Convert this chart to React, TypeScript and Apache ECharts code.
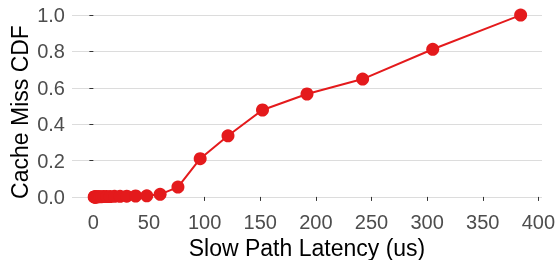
import React, { useEffect, useRef } from "react";
import * as echarts from "echarts";

const latency = [0.75, 0.95, 1.2, 1.5, 1.9, 2.4, 3, 3.8, 4.8, 6, 7.6, 9.5, 12, 15, 19, 24, 30, 38, 48, 60, 76, 96, 121, 152, 192, 242, 305, 384];
const cdf = [0, 0, 0, 0, 0, 0, 0, 0.001, 0.001, 0.001, 0.001, 0.002, 0.002, 0.002, 0.003, 0.003, 0.004, 0.005, 0.006, 0.014, 0.054, 0.21, 0.336, 0.478, 0.566, 0.648, 0.812, 1.0];
const xTicks = [0, 50, 100, 150, 200, 250, 300, 350, 400];
const yTicks = [0, 0.2, 0.4, 0.6, 0.8, 1.0];
const yTitle = "Cache Miss CDF";
const xTitle = "Slow Path Latency (us)";

const FONT = "Liberation Sans";

export default function App() {
  const ref = useRef<HTMLDivElement>(null);
  useEffect(() => {
    const chart = echarts.init(ref.current!, null, { renderer: "svg" });
    chart.setOption({
      animation: false,
      grid: { left: 72, right: 15, top: 6, bottom: 54, containLabel: false, outerBoundsMode: "none" },
      graphic: [
        {
          type: "text",
          x: 20,
          y: 112,
          rotation: Math.PI / 2,
          style: {
            text: yTitle,
            fill: "#000",
            fontSize: 23,
            fontFamily: FONT,
            textAlign: "center",
            textVerticalAlign: "middle",
          },
        },
      ],
      xAxis: {
        type: "value",
        min: -19.2,
        max: 403.2,
        name: xTitle,
        nameLocation: "middle",
        nameGap: 27,
        nameTextStyle: { color: "#000", fontSize: 23, fontFamily: FONT, verticalAlign: "top" },
        axisLine: { show: false },
        axisTick: { show: true, length: 4, customValues: xTicks, lineStyle: { color: "#333", width: 1 } },
        axisLabel: { customValues: xTicks, margin: 6, color: "#4d4d4d", fontSize: 20, fontFamily: FONT },
        splitLine: { show: false },
      },
      yAxis: {
        type: "value",
        min: -0.05,
        max: 1.05,
        axisLine: { show: false },
        axisTick: { show: true, length: 4, customValues: yTicks, lineStyle: { color: "#333", width: 1 } },
        axisLabel: {
          customValues: yTicks,
          margin: 7,
          color: "#4d4d4d",
          fontSize: 20,
          fontFamily: FONT,
          formatter: (v: number) => v.toFixed(1),
        },
        splitLine: { show: true, lineStyle: { color: "#dcdcdc", width: 1 } },
      },
      series: [
        {
          type: "line",
          data: latency.map((x, i) => [x, cdf[i]]),
          clip: false,
          symbol: "circle",
          symbolSize: 13,
          itemStyle: { color: "#e41a1c" },
          lineStyle: { color: "#e41a1c", width: 2 },
        },
      ],
    });
    return () => chart.dispose();
  }, []);
  return (
    <div
      ref={ref}
      style={{ position: "fixed", left: 0, top: 0, width: 557, height: 260 }}
    />
  );
}
